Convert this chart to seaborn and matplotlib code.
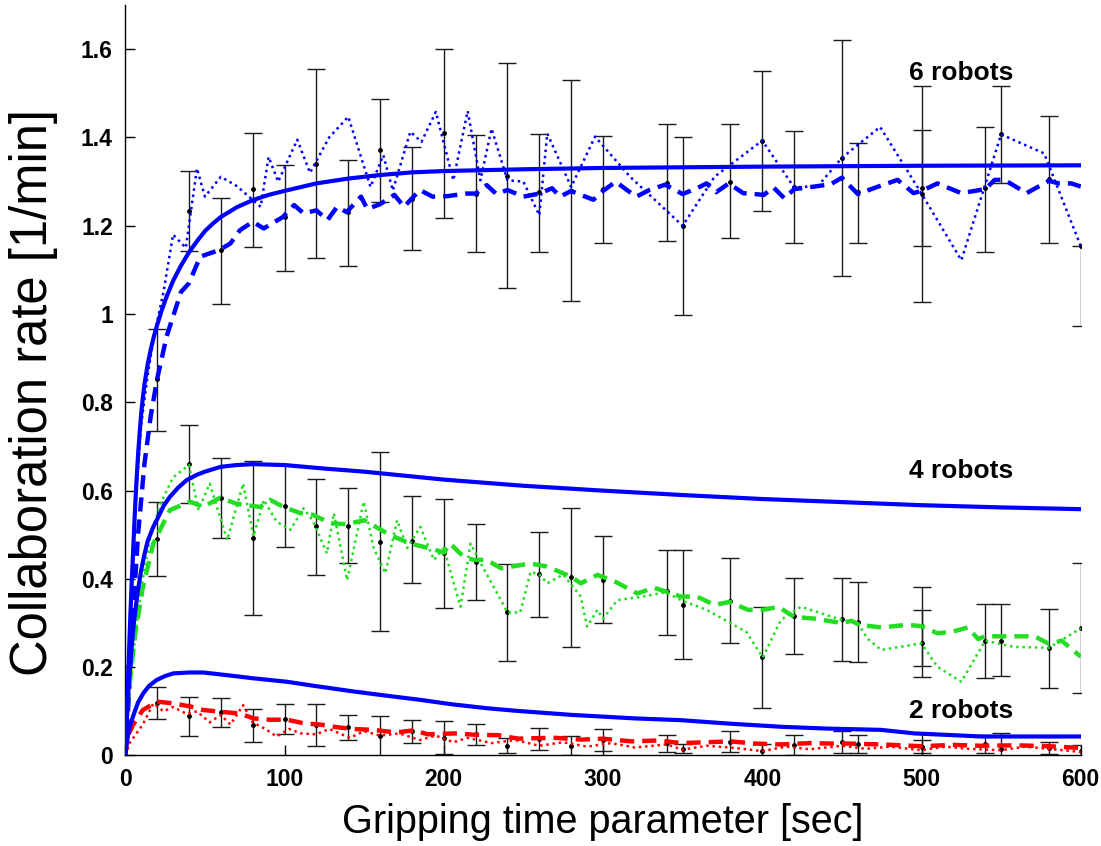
import matplotlib
matplotlib.use("Agg")
import matplotlib.pyplot as plt
import seaborn as sns
import numpy as np

# ---- model curves (solid) ----
solid6_x = [0, 1, 2, 3, 4, 5, 6, 7, 8, 9, 10, 11, 12, 14, 16, 18, 20, 23, 26, 30, 35, 40, 45, 50, 55, 60, 70, 80, 90, 100, 120, 140, 160, 180, 200, 250, 300, 400, 500, 600]
solid6_y = [0, 0.10, 0.20, 0.30, 0.39, 0.47, 0.55, 0.62, 0.68, 0.73, 0.775, 0.81, 0.84, 0.885, 0.92, 0.95, 0.975, 1.01, 1.04, 1.075, 1.11, 1.14, 1.165, 1.188, 1.205, 1.22, 1.242, 1.258, 1.27, 1.279, 1.296, 1.307, 1.315, 1.321, 1.324, 1.328, 1.331, 1.334, 1.336, 1.337]

solid4_x = [0, 1, 2, 3, 4, 5, 6, 8, 10, 12, 14, 17.6, 20, 24, 28, 33, 38.6, 45, 50, 60, 70, 80, 100, 125, 150, 200, 250, 300, 350, 400, 450, 500, 550, 600]
solid4_y = [0, 0.08, 0.15, 0.20, 0.245, 0.285, 0.32, 0.375, 0.42, 0.455, 0.485, 0.518, 0.535, 0.565, 0.586, 0.606, 0.624, 0.636, 0.643, 0.654, 0.658, 0.660, 0.658, 0.650, 0.643, 0.625, 0.611, 0.600, 0.590, 0.581, 0.574, 0.567, 0.562, 0.558]

solid2_x = [0, 1, 2, 3, 5, 8, 11.3, 15, 19.7, 25, 30.2, 40, 49, 63.8, 80, 101.5, 120, 143.4, 165, 185.3, 205, 227.3, 246.2, 280, 320, 348.8, 380, 412, 440, 474.6, 495.6, 520, 537.5, 560, 580, 600]
solid2_y = [0, 0.03, 0.052, 0.068, 0.09, 0.12, 0.141, 0.158, 0.171, 0.18, 0.186, 0.188, 0.188, 0.182, 0.175, 0.167, 0.157, 0.145, 0.135, 0.126, 0.116, 0.107, 0.101, 0.092, 0.084, 0.08, 0.072, 0.065, 0.061, 0.058, 0.05, 0.046, 0.043, 0.043, 0.043, 0.043]

# ---- simulated mean (dashed) ----
dash6_x = [0, 2, 5, 8, 12, 16, 20, 26, 35, 40, 47, 59, 66, 72, 80, 87, 99, 106, 112, 120, 127, 133, 139, 148, 152, 160, 169, 175, 185, 193, 202, 214, 220, 227, 233, 240, 250, 260, 268, 273, 280, 286, 294, 300, 308, 315, 321, 329, 339, 350, 359, 365, 371, 379, 388, 401, 407, 414, 420, 433, 443, 450, 460, 473, 485, 495, 500, 510, 525, 540, 546, 552, 566, 580, 586, 594, 600]
dash6_y = [0, 0.12, 0.33, 0.5, 0.66, 0.77, 0.853, 0.95, 1.05, 1.07, 1.13, 1.145, 1.16, 1.19, 1.209, 1.194, 1.22, 1.247, 1.228, 1.235, 1.213, 1.243, 1.231, 1.266, 1.238, 1.249, 1.27, 1.243, 1.281, 1.266, 1.267, 1.273, 1.273, 1.292, 1.272, 1.281, 1.266, 1.273, 1.285, 1.266, 1.279, 1.27, 1.259, 1.279, 1.30, 1.281, 1.266, 1.281, 1.293, 1.272, 1.285, 1.296, 1.276, 1.296, 1.274, 1.27, 1.287, 1.262, 1.283, 1.289, 1.294, 1.309, 1.272, 1.289, 1.304, 1.274, 1.279, 1.296, 1.274, 1.283, 1.304, 1.304, 1.274, 1.302, 1.296, 1.296, 1.289]

dash4_x = [0, 3, 6, 11, 17.6, 28, 40.7, 49, 59.6, 70, 84.7, 91, 99.4, 110, 118, 129, 139, 150, 166.5, 179, 191.6, 200, 204, 212.5, 219, 227, 236, 246, 254.5, 265, 280, 286, 296.5, 307, 321.6, 332, 349, 359, 370, 379.5, 391, 401, 410, 420, 433, 450, 456, 461, 475, 491, 500, 510, 519, 529, 535.5, 540, 550, 571, 580, 588, 600]
dash4_y = [0.06, 0.17, 0.27, 0.38, 0.48, 0.556, 0.575, 0.563, 0.584, 0.57, 0.563, 0.579, 0.563, 0.549, 0.545, 0.526, 0.524, 0.533, 0.499, 0.48, 0.469, 0.46, 0.48, 0.45, 0.443, 0.443, 0.424, 0.43, 0.435, 0.428, 0.405, 0.39, 0.409, 0.395, 0.367, 0.38, 0.36, 0.36, 0.341, 0.348, 0.33, 0.33, 0.337, 0.314, 0.31, 0.30, 0.305, 0.296, 0.29, 0.296, 0.293, 0.277, 0.28, 0.29, 0.264, 0.27, 0.27, 0.27, 0.253, 0.26, 0.224]

dash2_x = [0, 1, 5, 11, 20, 30, 41, 49, 60, 72, 80.5, 91, 101.5, 112, 122.5, 133, 143, 156, 170, 181, 190, 207, 219, 234, 247, 254.5, 270, 286, 300, 318, 335, 349, 365, 380, 395, 412, 430, 443, 454, 475, 500, 520, 537, 560, 580, 600]
dash2_y = [0.0, 0.04, 0.07, 0.103, 0.122, 0.118, 0.111, 0.103, 0.099, 0.095, 0.084, 0.081, 0.081, 0.073, 0.07, 0.064, 0.06, 0.058, 0.052, 0.057, 0.048, 0.05, 0.047, 0.046, 0.038, 0.039, 0.04, 0.036, 0.038, 0.032, 0.034, 0.028, 0.03, 0.032, 0.027, 0.025, 0.028, 0.027, 0.027, 0.025, 0.021, 0.024, 0.022, 0.023, 0.021, 0.017]

# ---- single-run traces (dotted) ----
dot6_x = [0, 3, 6, 10, 14, 18, 24, 30, 38, 45, 50, 60, 70, 85, 90, 96, 108, 116, 128, 140, 154, 162, 168, 179, 186, 195, 206, 215, 223, 230, 240, 250, 260, 265, 280, 295, 317, 350, 370, 400, 420, 435, 450, 474, 500, 525, 550, 577, 600]
dot6_y = [0, 0.3, 0.55, 0.75, 0.86, 0.95, 1.05, 1.18, 1.15, 1.33, 1.266, 1.311, 1.29, 1.243, 1.356, 1.30, 1.395, 1.32, 1.40, 1.447, 1.288, 1.36, 1.28, 1.413, 1.39, 1.458, 1.303, 1.46, 1.303, 1.42, 1.303, 1.30, 1.224, 1.409, 1.288, 1.402, 1.311, 1.2, 1.311, 1.393, 1.287, 1.29, 1.354, 1.424, 1.273, 1.122, 1.407, 1.364, 1.154]

dot4_x = [0, 4, 10, 16, 22, 30, 40, 46, 53, 64, 74, 80.5, 87, 95, 103.6, 112, 118, 126.6, 131, 139.3, 149.7, 156, 163.3, 170.7, 177, 185.3, 193.8, 200, 210.5, 216.8, 224, 233.6, 240, 248, 254.5, 260, 265, 275, 286, 290, 296.5, 300, 309, 325, 339.5, 350, 365, 380, 390, 400.3, 411.7, 424.3, 437, 450, 460, 466, 474.6, 500, 510, 525, 540, 558, 580, 600]
dot4_y = [0.08, 0.2, 0.38, 0.5, 0.57, 0.63, 0.658, 0.556, 0.616, 0.488, 0.616, 0.496, 0.579, 0.53, 0.511, 0.56, 0.53, 0.458, 0.549, 0.397, 0.575, 0.47, 0.413, 0.533, 0.47, 0.518, 0.443, 0.47, 0.337, 0.48, 0.43, 0.367, 0.324, 0.324, 0.416, 0.41, 0.39, 0.41, 0.36, 0.292, 0.33, 0.31, 0.352, 0.36, 0.37, 0.35, 0.33, 0.30, 0.28, 0.222, 0.307, 0.337, 0.322, 0.307, 0.30, 0.265, 0.239, 0.254, 0.201, 0.167, 0.26, 0.246, 0.244, 0.288]

dot2_x = [0, 3, 11, 17.6, 24, 30, 38.6, 45, 53, 60, 66, 74, 80, 88, 95, 103, 110, 120, 128, 141, 150, 160, 172, 185, 195, 206, 215, 230, 245, 260, 275, 290, 305, 320, 340, 350, 365, 380, 400, 415, 430, 450, 465, 480, 500, 515, 530, 550, 565, 580, 600]
dot2_y = [0.0, 0.03, 0.07, 0.118, 0.10, 0.11, 0.094, 0.10, 0.075, 0.092, 0.07, 0.114, 0.075, 0.06, 0.043, 0.06, 0.05, 0.048, 0.06, 0.04, 0.055, 0.045, 0.05, 0.035, 0.045, 0.03, 0.04, 0.028, 0.035, 0.022, 0.03, 0.02, 0.028, 0.018, 0.025, 0.013, 0.022, 0.018, 0.01, 0.02, 0.014, 0.022, 0.015, 0.02, 0.012, 0.02, 0.015, 0.012, 0.02, 0.015, 0.008]

# ---- error bars: position, mean, lower, upper ----
eb6_x = [20, 40, 60, 80, 100, 120, 140, 160, 180, 200, 220, 240, 260, 280, 300, 340, 350, 380, 400, 420, 450, 460, 500, 500, 540, 550, 580, 600]
eb6_m = [0.853, 1.233, 1.145, 1.284, 1.219, 1.341, 1.231, 1.371, 1.260, 1.410, 1.273, 1.313, 1.276, 1.279, 1.283, 1.297, 1.200, 1.300, 1.393, 1.287, 1.354, 1.277, 1.273, 1.285, 1.285, 1.407, 1.305, 1.154]
eb6_lo = [0.735, 1.143, 1.023, 1.153, 1.097, 1.128, 1.109, 1.255, 1.145, 1.218, 1.140, 1.058, 1.141, 1.029, 1.162, 1.165, 0.998, 1.172, 1.233, 1.160, 1.086, 1.162, 1.028, 1.154, 1.140, 1.296, 1.160, 0.972]
eb6_hi = [0.966, 1.325, 1.263, 1.411, 1.337, 1.555, 1.348, 1.488, 1.379, 1.600, 1.406, 1.568, 1.409, 1.530, 1.404, 1.430, 1.402, 1.430, 1.550, 1.415, 1.621, 1.388, 1.517, 1.417, 1.423, 1.517, 1.448, 1.154]

eb4_x = [20, 40, 60, 80, 100, 120, 140, 160, 180, 200, 220, 240, 260, 280, 300, 340, 350, 380, 400, 420, 450, 460, 500, 500, 540, 550, 580, 600]
eb4_m = [0.490, 0.660, 0.584, 0.493, 0.566, 0.520, 0.521, 0.483, 0.487, 0.458, 0.438, 0.324, 0.410, 0.404, 0.398, 0.372, 0.342, 0.350, 0.222, 0.317, 0.309, 0.303, 0.293, 0.254, 0.260, 0.260, 0.244, 0.288]
eb4_lo = [0.407, 0.573, 0.493, 0.318, 0.472, 0.409, 0.437, 0.282, 0.391, 0.335, 0.352, 0.214, 0.314, 0.246, 0.301, 0.274, 0.219, 0.254, 0.107, 0.230, 0.214, 0.211, 0.203, 0.177, 0.175, 0.179, 0.154, 0.141]
eb4_hi = [0.574, 0.749, 0.674, 0.668, 0.658, 0.626, 0.607, 0.687, 0.588, 0.581, 0.525, 0.434, 0.507, 0.561, 0.498, 0.466, 0.465, 0.447, 0.337, 0.402, 0.402, 0.393, 0.381, 0.330, 0.344, 0.344, 0.332, 0.435]

eb2_x = [20, 40, 60, 80, 100, 120, 140, 160, 180, 200, 220, 240, 260, 280, 300, 340, 350, 380, 400, 420, 450, 460, 500, 500, 540, 550, 580, 600]
eb2_m = [0.120, 0.089, 0.098, 0.070, 0.083, 0.069, 0.064, 0.043, 0.056, 0.040, 0.048, 0.022, 0.037, 0.022, 0.035, 0.029, 0.015, 0.031, 0.010, 0.023, 0.030, 0.026, 0.020, 0.020, 0.026, 0.014, 0.017, 0.011]
eb2_lo = [0.083, 0.044, 0.065, 0.031, 0.049, 0.022, 0.035, -0.003, 0.028, 0.003, 0.023, 0.005, 0.012, 0.000, 0.010, 0.009, 0.005, 0.007, -0.005, 0.000, 0.005, 0.005, -0.010, 0.005, 0.005, -0.020, 0.003, -0.001]
eb2_hi = [0.156, 0.132, 0.130, 0.106, 0.116, 0.116, 0.092, 0.089, 0.080, 0.077, 0.071, 0.039, 0.063, 0.043, 0.060, 0.046, 0.025, 0.055, 0.025, 0.046, 0.055, 0.046, 0.050, 0.035, 0.047, 0.050, 0.031, 0.023]

group_labels = ["6 robots", "4 robots", "2 robots"]
label_pos = [(525, 1.546), (525, 0.644), (525, 0.101)]

x_ticks = [0, 100, 200, 300, 400, 500, 600]
y_ticks = [0, 0.2, 0.4, 0.6, 0.8, 1.0, 1.2, 1.4, 1.6]
y_ticklabels = ["0", "0.2", "0.4", "0.6", "0.8", "1", "1.2", "1.4", "1.6"]

BLUE = "#0000ff"
GREEN = "#22dd22"
RED = "#ff0000"

sns.set_style("ticks")
plt.rcParams["font.family"] = ["Liberation Sans", "DejaVu Sans"]
plt.rcParams.update({
    "text.color": "black",
    "axes.labelcolor": "black",
    "axes.edgecolor": "black",
    "xtick.color": "black",
    "ytick.color": "black",
})

fig = plt.figure(figsize=(11.01, 8.46), dpi=100)
ax = fig.add_axes([0.1138, 0.107, 0.8678, 0.887])

def draw(x, y, color, lw, ls, z=2):
    line_ax = sns.lineplot(x=x, y=y, ax=ax, color=color, linewidth=lw,
                           estimator=None, sort=False, zorder=z)
    line_ax.lines[-1].set_linestyle(ls)

# error bars underneath the curves
for ex, em, elo, ehi in [(eb6_x, eb6_m, eb6_lo, eb6_hi),
                          (eb4_x, eb4_m, eb4_lo, eb4_hi),
                          (eb2_x, eb2_m, eb2_lo, eb2_hi)]:
    em = np.array(em)
    yerr = [em - np.array(elo), np.array(ehi) - em]
    ax.errorbar(ex, em, yerr=yerr, fmt="o", color="#000000", ecolor="#1a1a1a",
                ms=2.5, elinewidth=1.0, capsize=6.5, capthick=1.0, zorder=1)

# dotted single runs
draw(dot6_x, dot6_y, BLUE, 1.8, (0, (1, 1.5)))
draw(dot4_x, dot4_y, GREEN, 1.8, (0, (1, 1.5)))
draw(dot2_x, dot2_y, RED, 1.8, (0, (1, 1.5)))

# dashed means
draw(dash6_x, dash6_y, BLUE, 3.2, (0, (3.2, 1.8)))
draw(dash4_x, dash4_y, GREEN, 3.2, (0, (3.2, 1.8)))
draw(dash2_x, dash2_y, RED, 3.2, (0, (3.2, 1.8)))

# model curves
draw(solid6_x, solid6_y, BLUE, 3.0, "-", z=3)
draw(solid4_x, solid4_y, BLUE, 3.0, "-", z=3)
draw(solid2_x, solid2_y, BLUE, 3.0, "-", z=3)

for txt, (tx, ty) in zip(group_labels, label_pos):
    ax.text(tx, ty, txt, ha="center", va="center", fontsize=19, fontweight="bold", zorder=5)

ax.set_xlim(0, 600)
ax.set_ylim(0, 1.70)
ax.set_xticks(x_ticks)
ax.set_xticklabels([str(v) for v in x_ticks])
ax.set_yticks(y_ticks)
ax.set_yticklabels(y_ticklabels)
ax.tick_params(direction="in", length=7, width=1, labelsize=16.5, pad=9)
for lbl in ax.get_xticklabels() + ax.get_yticklabels():
    lbl.set_fontweight("bold")

sns.despine(ax=ax)
ax.spines["left"].set_linewidth(1)
ax.spines["bottom"].set_linewidth(1)

ax.set_xlabel("Gripping time parameter [sec]", fontsize=28.5, labelpad=9)
ax.set_ylabel("Collaboration rate [1/min]", fontsize=36.5)
ax.yaxis.set_label_coords(-0.0705, 0.484)

fig.savefig("out.png", dpi=100)
